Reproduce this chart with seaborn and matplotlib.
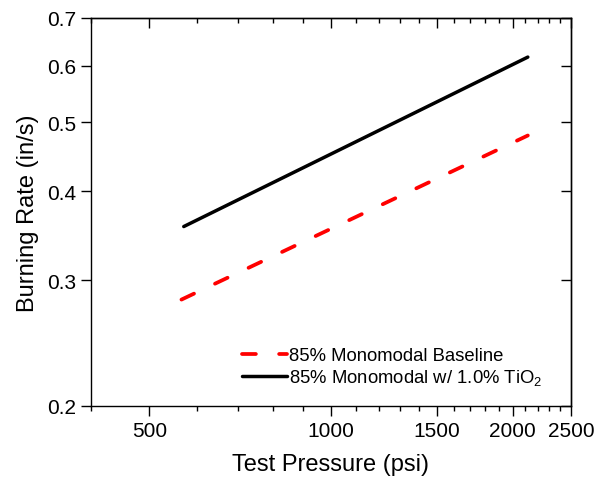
import matplotlib
matplotlib.use("Agg")
import matplotlib.pyplot as plt
import matplotlib.ticker as mticker
import seaborn as sns
import pandas as pd

pressure_baseline = [565, 2120]
rate_baseline = [0.282, 0.479]
pressure_tio2 = [570, 2120]
rate_tio2 = [0.357, 0.617]
label_baseline = "85% Monomodal Baseline"
label_tio2 = "85% Monomodal w/ 1.0% TiO$_\\mathregular{2}$"
x_major = [500, 1000, 1500, 2000, 2500]
x_minor = [400, 600, 700, 800, 900, 1100, 1200, 1300, 1400, 1600, 1700, 1800, 1900,
           2100, 2200, 2300, 2400]
y_major = [0.2, 0.3, 0.4, 0.5, 0.6, 0.7]

sns.set_theme(style="ticks")
plt.rcParams['font.family'] = ['Liberation Sans', 'DejaVu Sans']
plt.rcParams['mathtext.fontset'] = 'custom'
plt.rcParams['mathtext.rm'] = 'Liberation Sans'
plt.rcParams['text.color'] = 'black'
plt.rcParams['axes.labelcolor'] = 'black'

fig = plt.figure(figsize=(5.98, 4.81), dpi=100)
ax = fig.add_axes([91/598, 1-407/481, (571-91)/598, (407-19)/481])

df1 = pd.DataFrame({"p": pressure_baseline, "r": rate_baseline})
df2 = pd.DataFrame({"p": pressure_tio2, "r": rate_tio2})
sns.lineplot(data=df1, x="p", y="r", ax=ax, color="#ff0000", lw=2.7,
             dashes=False, label=label_baseline)
l1 = ax.lines[-1]
l1.set_dashes([3.7, 6.2])
l1.set_dash_capstyle("round")
sns.lineplot(data=df2, x="p", y="r", ax=ax, color="black", lw=2.5, label=label_tio2)
ax.lines[-1].set_solid_capstyle("round")

ax.set_xscale("log")
ax.set_yscale("log")
ax.set_xlim(400, 2500)
ax.set_ylim(0.2, 0.7)
ax.xaxis.set_major_locator(mticker.FixedLocator(x_major))
ax.xaxis.set_minor_locator(mticker.FixedLocator(x_minor))
ax.xaxis.set_major_formatter(mticker.FixedFormatter([str(v) for v in x_major]))
ax.xaxis.set_minor_formatter(mticker.NullFormatter())
ax.yaxis.set_major_locator(mticker.FixedLocator(y_major))
ax.yaxis.set_minor_locator(mticker.NullLocator())
ax.yaxis.set_major_formatter(mticker.FixedFormatter([f"{v:.1f}" for v in y_major]))

for s in ax.spines.values():
    s.set_visible(True)
    s.set_color("black")
    s.set_linewidth(1.0)

ax.tick_params(axis="both", which="both", direction="out", colors="black",
               labelsize=15, width=1.0, bottom=True, left=True, top=False, right=False)
ax.tick_params(axis="both", which="major", length=7)
ax.tick_params(axis="both", which="minor", length=3.5)

ax2 = ax.secondary_xaxis("top")
ax2.xaxis.set_major_locator(mticker.FixedLocator(x_major))
ax2.xaxis.set_minor_locator(mticker.FixedLocator(x_minor))
ax2.tick_params(which="both", direction="in", labeltop=False, width=1.0, colors="black", top=True)
ax2.tick_params(which="major", length=7)
ax2.tick_params(which="minor", length=3.5)
ax2.spines["top"].set_linewidth(1.0)
ax3 = ax.secondary_yaxis("right")
ax3.yaxis.set_major_locator(mticker.FixedLocator(y_major))
ax3.yaxis.set_minor_locator(mticker.NullLocator())
ax3.tick_params(which="both", direction="in", labelright=False, width=1.0, length=7,
                colors="black", right=True)
ax3.spines["right"].set_linewidth(1.0)

ax.set_xlabel("Test Pressure (psi)", fontsize=17, color="black", labelpad=10)
ax.set_ylabel("Burning Rate (in/s)", fontsize=17, color="black", labelpad=6)

leg = ax.legend(loc="lower right", bbox_to_anchor=(0.955, 0.03), frameon=False,
                fontsize=13.3, handlelength=2.4, handletextpad=0.1,
                labelspacing=0.15, borderaxespad=0)
for t in leg.get_texts():
    t.set_color("black")

fig.savefig("out.png", dpi=100)
